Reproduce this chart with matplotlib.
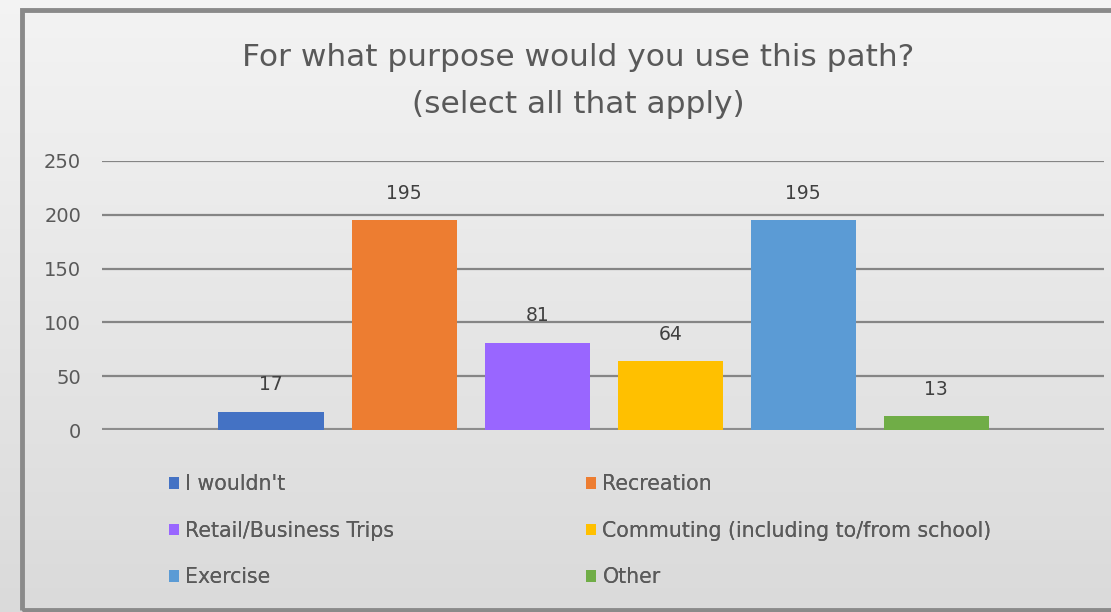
import numpy as np
import matplotlib
matplotlib.use('Agg')
import matplotlib.pyplot as plt
from matplotlib.patches import Rectangle, Patch

categories = ["I wouldn't", 'Recreation', 'Retail/Business Trips',
              'Commuting (including to/from school)', 'Exercise', 'Other']
values = [17, 195, 81, 64, 195, 13]
colors = ['#4472C4', '#ED7D31', '#9966FF', '#FFC000', '#5B9BD5', '#70AD47']
yticks = [0, 50, 100, 150, 200, 250]

plt.rcParams['font.family'] = ['DejaVu Sans']

W, H = 1111, 612
fig = plt.figure(figsize=(W / 100, H / 100), dpi=100)

# gradient background
bg = fig.add_axes([0, 0, 1, 1], zorder=-10)
grad = np.linspace(0.955, 0.855, 256).reshape(-1, 1)
bg.imshow(np.dstack([grad, grad, grad]), aspect='auto', extent=[0, 1, 0, 1])
bg.set_xlim(0, 1)
bg.set_ylim(0, 1)
bg.axis('off')
# frame around the chart area
bg.add_patch(Rectangle((22 / W, 2 / H), 1.2, (608 - 2 - 6) / H, fill=False,
                       edgecolor='#8a8a8a', linewidth=3.5))

ax = fig.add_axes([102 / W, 1 - 430 / H, (1104 - 102) / W, (430 - 161) / H])
ax.set_facecolor('none')
x = np.arange(len(values))
bars = ax.bar(x, values, width=0.79, color=colors, zorder=3)
for xi, v in zip(x, values):
    ax.text(xi, v + 25, str(v), ha='center', va='center', fontsize=13.5,
            color='#404040')

ax.set_ylim(0, 250)
ax.set_xlim(-1.27, 6.26)
ax.set_yticks(yticks)
ax.set_yticklabels([str(t) for t in yticks])
ax.tick_params(axis='y', length=0, pad=15, labelsize=14, labelcolor='#595959')
ax.set_xticks([])
ax.grid(axis='y', color='#858585', linewidth=1.6, zorder=0)
for s in ax.spines.values():
    s.set_visible(False)
ax.axhline(0, color='#8c8c8c', linewidth=3, zorder=2)

fig.text(578 / W, 1 - 58 / H, 'For what purpose would you use this path?',
         ha='center', va='center', fontsize=22.5, color='#595959')
fig.text(578 / W, 1 - 104 / H, '(select all that apply)',
         ha='center', va='center', fontsize=22.5, color='#595959')

handles = [Patch(facecolor=c, edgecolor='none') for c in colors]
for col, xpos in [(0, 169), (1, 586)]:
    idx = [col, col + 2, col + 4]
    leg = fig.legend([handles[i] for i in idx], [categories[i] for i in idx],
                     loc='upper left', bbox_to_anchor=(xpos / W, 1 - 474 / H),
                     frameon=False, fontsize=14.8, labelcolor='#5a5a5a',
                     handlelength=0.5, handleheight=0.5, handletextpad=0.3,
                     labelspacing=1.3, borderaxespad=0, borderpad=0)
    fig.add_artist(leg)

fig.savefig('out.png', dpi=100)
